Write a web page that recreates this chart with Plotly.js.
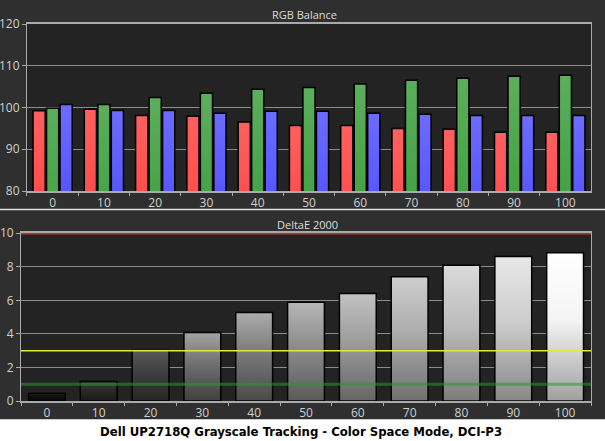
<!DOCTYPE html>
<html>
<head>
<meta charset="utf-8">
<script src="https://cdn.plot.ly/plotly-3.0.1.min.js"></script>
<style>
  html, body { margin: 0; padding: 0; background: #ffffff; }
  #chart { width: 605px; height: 441px; }
</style>
</head>
<body>
<div id="chart"></div>
<script>
// stimulus levels (% grey)
var levels = ['0', '10', '20', '30', '40', '50', '60', '70', '80', '90', '100'];
// RGB balance
var redVals = [99.2, 99.6, 98.1, 97.9, 96.5, 95.7, 95.7, 95.0, 94.8, 94.1, 94.1];
var greenVals = [99.8, 100.7, 102.4, 103.4, 104.4, 104.8, 105.6, 106.5, 107.0, 107.5, 107.7];
var blueVals = [100.7, 99.3, 99.3, 98.6, 99.1, 99.1, 98.6, 98.4, 98.1, 98.1, 98.1];
// DeltaE 2000 per step
var deltaE = [0.46, 1.16, 3.03, 4.09, 5.28, 5.88, 6.41, 7.41, 8.09, 8.62, 8.84];
// reference lines on the DeltaE panel
var limitRed = 10, limitYellow = 3, limitGreen = 1;

var fnt = 'Open Sans, Noto Sans, sans-serif';
var lineCol = '#aaaaaa';

function barTrace(vals, col, xa, ya) {
    return {
        type: 'bar', x: levels, y: vals, xaxis: xa, yaxis: ya,
        marker: {color: col, line: {color: '#000000', width: 1.5}},
        hoverinfo: 'none', showlegend: false
    };
}

var data = [
    barTrace(redVals, '#ff2020', 'x', 'y'),
    barTrace(greenVals, '#108810', 'x', 'y'),
    barTrace(blueVals, '#2020ff', 'x', 'y'),
    barTrace(deltaE, '#999999', 'x2', 'y2')
];

function xax(dom) {
    return {
        domain: dom, type: 'category', tickson: 'boundaries',
        ticks: 'outside', ticklen: 3, tickcolor: lineCol,
        showline: true, linecolor: lineCol, linewidth: 2, mirror: true,
        showgrid: false, tickfont: {family: fnt, size: 12, color: '#d0d0d0'},
        fixedrange: true
    };
}
function yax(dom, rng, dt, anchor) {
    return {
        domain: dom, range: rng, dtick: dt, anchor: anchor,
        ticks: 'outside', ticklen: 4, tickcolor: lineCol,
        showline: true, linecolor: lineCol, linewidth: 1, mirror: true,
        showgrid: true, gridcolor: '#8c8c8c', gridwidth: 1, zeroline: false,
        tickfont: {family: fnt, size: 12, color: '#d0d0d0'}, fixedrange: true
    };
}

var x1 = xax([0.0105, 1]); x1.anchor = 'y';
var x2 = xax([0, 1]); x2.anchor = 'y2';

var layout = {
    width: 605, height: 441,
    margin: {l: 21, r: 14, t: 24, b: 40},
    paper_bgcolor: '#2f2f2f', plot_bgcolor: '#232323',
    barmode: 'group', bargap: 0.21, bargroupgap: 0.1,
    xaxis: x1, yaxis: yax([0.557, 1], [80, 120], 10, 'x'),
    xaxis2: x2, yaxis2: yax([0, 0.445], [0, 10], 2, 'x2'),
    shapes: [
        {type: 'rect', xref: 'paper', yref: 'paper', x0: -0.05, x1: 1.05, y0: -0.2, y1: -0.0485,
         fillcolor: '#ffffff', line: {width: 0}, layer: 'below'},
        {type: 'line', xref: 'paper', yref: 'paper', x0: -0.04, x1: 1.03, y0: 0.508, y1: 0.508,
         line: {color: '#e0e0e0', width: 1.5}},
        {type: 'line', xref: 'x2 domain', yref: 'y2', x0: 0, x1: 1, y0: limitGreen, y1: limitGreen,
         line: {color: 'rgba(50,150,50,0.55)', width: 3}},
        {type: 'line', xref: 'x2 domain', yref: 'y2', x0: 0, x1: 1, y0: limitYellow, y1: limitYellow,
         line: {color: '#e8e830', width: 1.5}},
        {type: 'line', xref: 'x2 domain', yref: 'y2', x0: 0, x1: 1, y0: limitRed, y1: limitRed,
         line: {color: '#d03a3a', width: 2.5}}
    ],
    annotations: [
        {text: 'RGB Balance', xref: 'paper', yref: 'paper', x: 0.498, y: 1.024,
         xanchor: 'center', yanchor: 'middle', showarrow: false,
         font: {family: fnt, size: 11, color: '#dddddd'}},
        {text: 'DeltaE 2000', xref: 'paper', yref: 'paper', x: 0.502, y: 0.468,
         xanchor: 'center', yanchor: 'middle', showarrow: false,
         font: {family: fnt, size: 11, color: '#dddddd'}},
        {text: '<b>Dell UP2718Q Grayscale Tracking - Color Space Mode, DCI-P3</b>',
         xref: 'paper', yref: 'paper', x: 0.491, y: -0.0796,
         xanchor: 'center', yanchor: 'middle', showarrow: false,
         font: {family: 'DejaVu Sans Condensed, DejaVu Sans, sans-serif', size: 13, color: '#000000'}}
    ]
};

// vertical shading of the bars, like the original software draws them
var rgbGrad = [['#ff6060', '#ff0000'], ['#5cae5c', '#008000'], ['#6c6cff', '#0000ff']];
var grayTop = ['#1a1a1a', '#3a3a3a', '#585858', '#a4a4a4', '#acacac', '#b6b6b6', '#c2c2c2', '#cecece', '#dadada', '#e8e8e8', '#ffffff'];
var grayMid = ['#101010', '#2a2a2a', '#3e3e3e', '#707070', '#7a7a7a', '#8c8c8c', '#9c9c9c', '#acacac', '#bcbcbc', '#cdcdcd', '#f4f4f4'];
var grayBot = ['#050505', '#1a1a1a', '#262626', '#404040', '#4a4a4a', '#5a5a5a', '#666666', '#707070', '#7c7c7c', '#888888', '#a0a0a0'];

function makeGrad(defs, id, stops) {
    var ns = 'http://www.w3.org/2000/svg';
    var g = document.createElementNS(ns, 'linearGradient');
    g.setAttribute('id', id);
    g.setAttribute('x1', '0'); g.setAttribute('y1', '0');
    g.setAttribute('x2', '0'); g.setAttribute('y2', '1');
    for (var i = 0; i < stops.length; i++) {
        var s = document.createElementNS(ns, 'stop');
        s.setAttribute('offset', stops[i][0]);
        s.setAttribute('stop-color', stops[i][1]);
        g.appendChild(s);
    }
    defs.appendChild(g);
}

Plotly.newPlot('chart', data, layout, {displayModeBar: false, staticPlot: true}).then(function (gd) {
    var svg = gd.querySelector('.main-svg');
    var defs = document.createElementNS('http://www.w3.org/2000/svg', 'defs');
    svg.insertBefore(defs, svg.firstChild);
    for (var k = 0; k < 3; k++) {
        makeGrad(defs, 'rgb' + k, [[0, rgbGrad[k][0]], [1, rgbGrad[k][1]]]);
    }
    for (var j = 0; j < levels.length; j++) {
        makeGrad(defs, 'gray' + j, [[0, grayTop[j]], [0.45, grayMid[j]], [1, grayBot[j]]]);
    }
    var traces = gd.querySelectorAll('.barlayer .trace');
    for (var t = 0; t < traces.length; t++) {
        var paths = traces[t].querySelectorAll('.point path');
        for (var p = 0; p < paths.length; p++) {
            paths[p].style.fill = t < 3 ? 'url(#rgb' + t + ')' : 'url(#gray' + p + ')';
        }
    }
});
</script>
</body>
</html>
